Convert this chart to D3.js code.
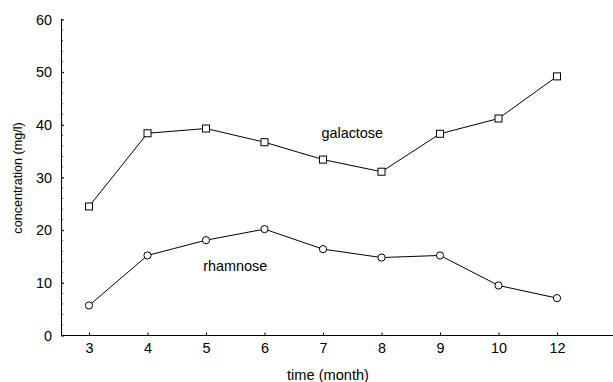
<!DOCTYPE html>
<html>
<head>
<meta charset="utf-8">
<script src="https://cdn.jsdelivr.net/npm/d3@7"></script>
<style>
  html, body { margin: 0; padding: 0; background: #fff; }
  svg { display: block; }
  text { font-family: "Liberation Sans", Arial, sans-serif; fill: #000; }
</style>
</head>
<body>
<script>
const months = ["3", "4", "5", "6", "7", "8", "9", "10", "12"];
const galactose = [24.5, 38.4, 39.3, 36.7, 33.4, 31.1, 38.3, 41.2, 49.2];
const rhamnose = [5.7, 15.2, 18.1, 20.2, 16.4, 14.8, 15.2, 9.5, 7.1];
const yTicks = [0, 10, 20, 30, 40, 50, 60];
const yMinorTicks = d3.range(0, 61, 2);
const seriesLabels = [
  { text: "galactose", between: ["7", "8"], value: 37.5 },
  { text: "rhamnose", between: ["5", "6"], value: 12.2 }
];

(function () {
const W = 613, H = 382;
const mLeft = 61, mTop = 19.5, mBottom = 335.5, mRight = 613;

const svg = d3.select("body").append("svg").attr("width", W).attr("height", H);

const x = d3.scalePoint().domain(months).range([89, 557]);
const y = d3.scaleLinear().domain([0, 60]).range([mBottom, mTop]);

// minor y ticks
svg.append("g").selectAll("line").data(yMinorTicks).join("line")
  .attr("x1", mLeft).attr("x2", mLeft + 2)
  .attr("y1", d => y(d)).attr("y2", d => y(d))
  .attr("stroke", "#000").attr("stroke-width", 0.8);

// y axis
const yAxis = svg.append("g").attr("transform", `translate(${mLeft},0)`)
  .call(d3.axisLeft(y).tickValues(yTicks).tickSizeInner(-3).tickSizeOuter(0).tickPadding(9));
yAxis.select(".domain").attr("stroke", "#000");
yAxis.selectAll(".tick line").attr("stroke", "#000");
yAxis.selectAll("text").attr("font-size", "14.4px").attr("font-family", "Liberation Sans, Arial, sans-serif").attr("fill", "#000");

// x axis
const xAxis = svg.append("g").attr("transform", `translate(0,${mBottom})`)
  .call(d3.axisBottom(x).tickSizeInner(-3).tickSizeOuter(0).tickPadding(7));
xAxis.select(".domain").remove();
xAxis.append("line").attr("x1", mLeft).attr("x2", mRight).attr("y1", 0).attr("y2", 0).attr("stroke", "#000");
xAxis.selectAll(".tick line").attr("stroke", "#000");
xAxis.selectAll("text").attr("font-size", "14.4px").attr("font-family", "Liberation Sans, Arial, sans-serif").attr("fill", "#000");

// axis titles
svg.append("text").attr("x", 328).attr("y", 380).attr("text-anchor", "middle")
  .attr("font-size", "14.6px").text("time (month)");
svg.append("text").attr("transform", `translate(22,178) rotate(-90)`).attr("text-anchor", "middle")
  .attr("font-size", "12.6px").text("concentration (mg/l)");

const line = d3.line().x((d, i) => x(months[i])).y(d => y(d));

// galactose
svg.append("path").datum(galactose).attr("d", line).attr("fill", "none").attr("stroke", "#000").attr("stroke-width", 1);
svg.append("g").selectAll("rect").data(galactose).join("rect")
  .attr("x", (d, i) => x(months[i]) - 3.5).attr("y", d => y(d) - 3.5)
  .attr("width", 7).attr("height", 7)
  .attr("fill", "#fff").attr("stroke", "#000").attr("stroke-width", 1);

// rhamnose
svg.append("path").datum(rhamnose).attr("d", line).attr("fill", "none").attr("stroke", "#000").attr("stroke-width", 1);
svg.append("g").selectAll("circle").data(rhamnose).join("circle")
  .attr("cx", (d, i) => x(months[i])).attr("cy", d => y(d)).attr("r", 3.6)
  .attr("fill", "#fff").attr("stroke", "#000").attr("stroke-width", 1);

// series labels
svg.append("g").selectAll("text").data(seriesLabels).join("text")
  .attr("x", d => (x(d.between[0]) + x(d.between[1])) / 2)
  .attr("y", d => y(d.value))
  .attr("text-anchor", "middle").attr("font-size", "14.4px")
  .text(d => d.text);
})();
</script>
</body>
</html>
